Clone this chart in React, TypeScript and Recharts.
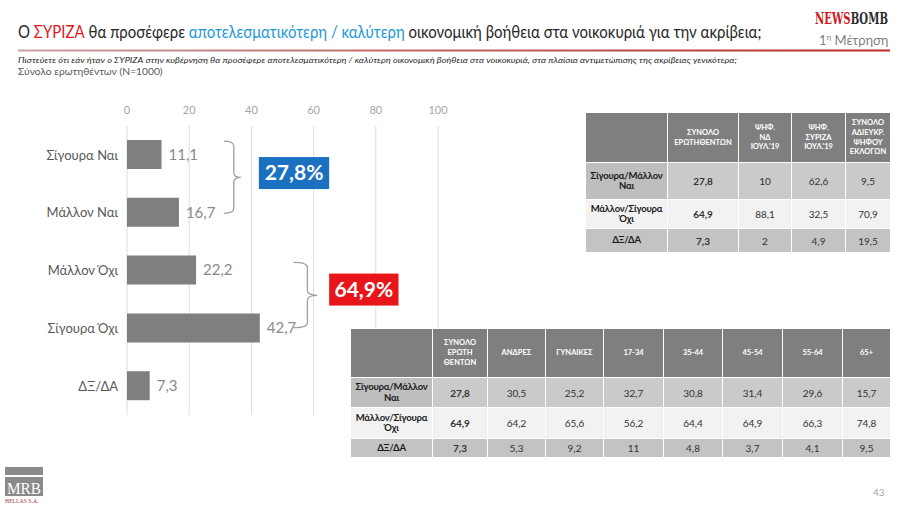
import React, { useLayoutEffect, useRef, useState } from 'react';
import { BarChart, Bar, XAxis, YAxis, CartesianGrid, LabelList, ReferenceArea } from 'recharts';

// ---------- data ----------
const categories = ['Σίγουρα Ναι', 'Μάλλον Ναι', 'Μάλλον Όχι', 'Σίγουρα Όχι', 'ΔΞ/ΔΑ'];
const values = [11.1, 16.7, 22.2, 42.7, 7.3];
const xTicks = [0, 20, 40, 60, 80, 100];

const rowLabels = ['Σίγουρα/Μάλλον\nΝαι', 'Μάλλον/Σίγουρα\nΌχι', 'ΔΞ/ΔΑ'];

const t1Columns = ['ΣΥΝΟΛΟ\nΕΡΩΤΗΘΕΝΤΩΝ', 'ΨΗΦ.\nΝΔ\nΙΟΥΛ.\'19', 'ΨΗΦ.\nΣΥΡΙΖΑ\nΙΟΥΛ.\'19', 'ΣΥΝΟΛΟ\nΑΔΙΕΥΚΡ.\nΨΗΦΟΥ\nΕΚΛΟΓΩΝ'];
const t1Yes = [27.8, 10, 62.6, 9.5];
const t1No = [64.9, 88.1, 32.5, 70.9];
const t1Dk = [7.3, 2, 4.9, 19.5];

const t2Columns = ['ΣΥΝΟΛΟ\nΕΡΩΤΗ\nΘΕΝΤΩΝ', 'ΑΝΔΡΕΣ', 'ΓΥΝΑΙΚΕΣ', '17-34', '35-44', '45-54', '55-64', '65+'];
const t2Yes = [27.8, 30.5, 25.2, 32.7, 30.8, 31.4, 29.6, 15.7];
const t2No = [64.9, 64.2, 65.6, 56.2, 64.4, 64.9, 66.3, 74.8];
const t2Dk = [7.3, 5.3, 9.2, 11, 4.8, 3.7, 4.1, 9.5];

// ---------- helpers ----------
const FONT = 'Lato, "Open Sans", sans-serif';
const fmt = (n: number) => String(n).replace('.', ',');
const fmt1 = (n: number) => n.toFixed(1).replace('.', ',');

const chartData = categories.map((c, i) => ({ name: c, value: values[i] }));

const groupYes = values[0] + values[1];
const groupNo = values[2] + values[3];

const annotations = [
  {
    from: categories[0], to: categories[1], total: groupYes,
    braceX1: 31.2, braceX2: 36.6, boxX1: 42.4, boxX2: 65,
    top: 0.13, bottom: 0.755, tip: 0.445, boxMid: 0.407, color: '#1b70bf',
  },
  {
    from: categories[2], to: categories[3], total: groupNo,
    braceX1: 53.6, braceX2: 61.2, boxX1: 65, boxX2: 87.3,
    top: 0.18, bottom: 0.745, tip: 0.465, boxMid: 0.415, color: '#e8151b',
  },
];

// Text that is horizontally scaled to fit a target width (measured at runtime)
function FitText(props: { x: number; y: number; width: number; children: React.ReactNode; [k: string]: any }) {
  const { x, y, width, children, ...rest } = props;
  const ref = useRef<SVGTextElement>(null);
  const [s, setS] = useState(1);
  useLayoutEffect(() => {
    if (ref.current) {
      const w = ref.current.getBBox().width;
      if (w > 0) setS(width / w);
    }
  }, [width]);
  return (
    <g transform={`translate(${x},${y}) scale(${s},1)`}>
      <text ref={ref} x={0} y={0} {...rest}>{children}</text>
    </g>
  );
}

function BraceShape(props: any) {
  const { x, y, width, height, ann } = props;
  if (x == null || width == null) return null;
  const k = width / (ann.boxX2 - ann.braceX1);
  const braceW = (ann.braceX2 - ann.braceX1) * k;
  const xs = x;
  const xv = x + braceW * 0.58;
  const tipX = x + braceW;
  const top = y + height * ann.top;
  const bottom = y + height * ann.bottom;
  const tipY = y + height * ann.tip;
  const r = 5;
  const d = `M${xs},${top} Q${xv},${top} ${xv},${top + r} L${xv},${tipY - r} Q${xv},${tipY} ${tipX},${tipY} Q${xv},${tipY} ${xv},${tipY + r} L${xv},${bottom - r} Q${xv},${bottom} ${xs},${bottom}`;
  const bx = x + (ann.boxX1 - ann.braceX1) * k;
  const bw = x + width - bx;
  const bh = 32;
  const by = y + height * ann.boxMid - bh / 2;
  return (
    <g>
      <path d={d} fill="none" stroke="#a0a0a0" strokeWidth={1.3} />
      <rect x={bx} y={by} width={bw} height={bh} fill={ann.color} />
      <text x={bx + bw / 2} y={by + bh / 2 + 7} textAnchor="middle" fill="#fff" fontSize={21} fontWeight={700} fontFamily={FONT}>
        {fmt1(ann.total)}%
      </text>
    </g>
  );
}

function DataTable(props: {
  left: number; top: number; colWidths: number[]; rowHeights: number[];
  columns: string[]; rows: number[][];
}) {
  const { left, top, colWidths, rowHeights, columns, rows } = props;
  const rowBg = ['#cacaca', '#f2f2f2', '#c3c3c3'];
  const labelBg = ['#bebebe', '#f2f2f2', '#c3c3c3'];
  const cell: React.CSSProperties = {
    border: '1.5px solid #fff', padding: 0, textAlign: 'center', verticalAlign: 'middle',
    whiteSpace: 'pre', fontFamily: FONT, overflow: 'hidden',
  };
  return (
    <table style={{ position: 'absolute', left, top, borderCollapse: 'collapse', tableLayout: 'fixed', width: colWidths.reduce((a, b) => a + b, 0) }}>
      <colgroup>
        {colWidths.map((w, i) => <col key={i} style={{ width: w }} />)}
      </colgroup>
      <tbody>
        <tr style={{ height: rowHeights[0] }}>
          <td style={{ ...cell, background: '#7f7f7f' }} />
          {columns.map((c, i) => (
            <td key={i} style={{ ...cell, background: '#7f7f7f', color: '#fff', fontSize: 7.5, fontWeight: 700, lineHeight: 1.3 }}>{c}</td>
          ))}
        </tr>
        {rows.map((r, ri) => (
          <tr key={ri} style={{ height: rowHeights[ri + 1] }}>
            <td style={{ ...cell, background: labelBg[ri], color: '#1a1a1a', fontSize: 9.5, fontWeight: 700, lineHeight: 1.1, letterSpacing: -0.2 }}>{rowLabels[ri]}</td>
            {r.map((v, vi) => (
              <td key={vi} style={{ ...cell, background: rowBg[ri], color: '#333', fontSize: 10, fontWeight: vi === 0 ? 700 : 400 }}>{fmt(v)}</td>
            ))}
          </tr>
        ))}
      </tbody>
    </table>
  );
}

export default function App() {
  return (
    <div style={{ position: 'absolute', left: 0, top: 0, width: 900, height: 506, background: '#fff', overflow: 'hidden', fontFamily: FONT }}>
      {/* header & decorations */}
      <svg width={900} height={506} style={{ position: 'absolute', left: 0, top: 0 }}>
        <defs>
          <linearGradient id="redline" x1="0" x2="1" y1="0" y2="0">
            <stop offset="0" stopColor="#caa3a3" />
            <stop offset="0.5" stopColor="#c06060" />
            <stop offset="1" stopColor="#b82a2a" />
          </linearGradient>
        </defs>
        <FitText x={18} y={38} width={744} fontSize={17} fontFamily={FONT} fill="#262626">
          <tspan>Ο </tspan>
          <tspan fill="#e3161b">ΣΥΡΙΖΑ</tspan>
          <tspan> θα προσέφερε </tspan>
          <tspan fill="#1d9ad6">αποτελεσματικότερη / καλύτερη</tspan>
          <tspan> οικονομική βοήθεια στα νοικοκυριά για την ακρίβεια;</tspan>
        </FitText>
        <FitText x={815} y={24} width={73} fontSize={16} fontWeight={900} fontFamily='"DejaVu Serif", "Liberation Serif", serif'>
          <tspan fill="#d0171d">NEWS</tspan>
          <tspan fill="#2b2b2b">BOMB</tspan>
        </FitText>
        <text x={819} y={45} fontSize={13} fontFamily={FONT} fill="#7f7f7f">
          1<tspan fontSize={8} dy={-5}>η</tspan><tspan dy={5}> Μέτρηση</tspan>
        </text>
        <rect x={18} y={49.5} width={872} height={2} fill="url(#redline)" />
        <FitText x={18} y={63} width={720} fontSize={8} fontStyle="italic" fontFamily={FONT} fill="#262626">
          Πιστεύετε ότι εάν ήταν ο ΣΥΡΙΖΑ στην κυβέρνηση θα προσέφερε αποτελεσματικότερη  / καλύτερη οικονομική βοήθεια στα νοικοκυριά, στα πλαίσια αντιμετώπισης της ακρίβειας γενικότερα;
        </FitText>
        <FitText x={18} y={75} width={145} fontSize={10} fontFamily={FONT} fill="#595959">
          Σύνολο ερωτηθέντων (N=1000)
        </FitText>
        {/* MRB logo */}
        <rect x={5} y={467} width={38} height={8} fill="#8a8a8a" />
        <rect x={5} y={477} width={38} height={19} fill="#8a8a8a" />
        <FitText x={7} y={494} width={34} fontSize={17} fontFamily='"Liberation Serif", serif' fill="#fff">MRB</FitText>
        <FitText x={5} y={503} width={34} fontSize={6} fontFamily='"Liberation Serif", serif' fill="#a0303a">HELLAS S.A.</FitText>
        <text x={873} y={496} fontSize={10} fontFamily={FONT} fill="#a6a6a6">43</text>
      </svg>

      {/* chart */}
      <div style={{ position: 'absolute', left: 0, top: 0 }}>
        <BarChart
          width={900}
          height={506}
          data={chartData}
          layout="vertical"
          margin={{ top: 106, right: 462, bottom: 91, left: 0 }}
          barCategoryGap="0%"
        >
          <CartesianGrid horizontal={false} vertical stroke="#dcdcdc" />
          <XAxis
            type="number"
            orientation="top"
            domain={[0, 100]}
            ticks={xTicks}
            height={20}
            axisLine={false}
            tickLine={false}
            tickSize={0}
            tickMargin={12}
            tick={{ fill: '#a6a6a6', fontSize: 11, fontFamily: FONT }}
          />
          <YAxis
            type="category"
            dataKey="name"
            width={127}
            axisLine={false}
            tickLine={false}
            tickSize={0}
            tickMargin={9}
            tick={{ fill: '#595959', fontSize: 13, fontFamily: FONT }}
          />
          <Bar dataKey="value" fill="#7f7f7f" barSize={29} isAnimationActive={false}>
            <LabelList
              dataKey="value"
              position="right"
              offset={7}
              fill="#8a8a8a"
              fontSize={15}
              fontFamily={FONT}
              formatter={(v: any) => fmt1(Number(v))}
            />
          </Bar>
          {annotations.map((a, i) => (
            <ReferenceArea
              key={i}
              x1={a.braceX1}
              x2={a.boxX2}
              y1={a.from}
              y2={a.to}
              ifOverflow="visible"
              shape={(p: any) => <BraceShape {...p} ann={a} />}
            />
          ))}
        </BarChart>
      </div>

      {/* tables */}
      <DataTable
        left={585} top={112}
        colWidths={[82, 71, 53, 54, 45]}
        rowHeights={[50, 37, 29, 24]}
        columns={t1Columns}
        rows={[t1Yes, t1No, t1Dk]}
      />
      <DataTable
        left={350} top={328}
        colWidths={[82, 55, 58, 58, 60, 59, 60, 60, 48]}
        rowHeights={[49, 30, 31, 19]}
        columns={t2Columns}
        rows={[t2Yes, t2No, t2Dk]}
      />
    </div>
  );
}
